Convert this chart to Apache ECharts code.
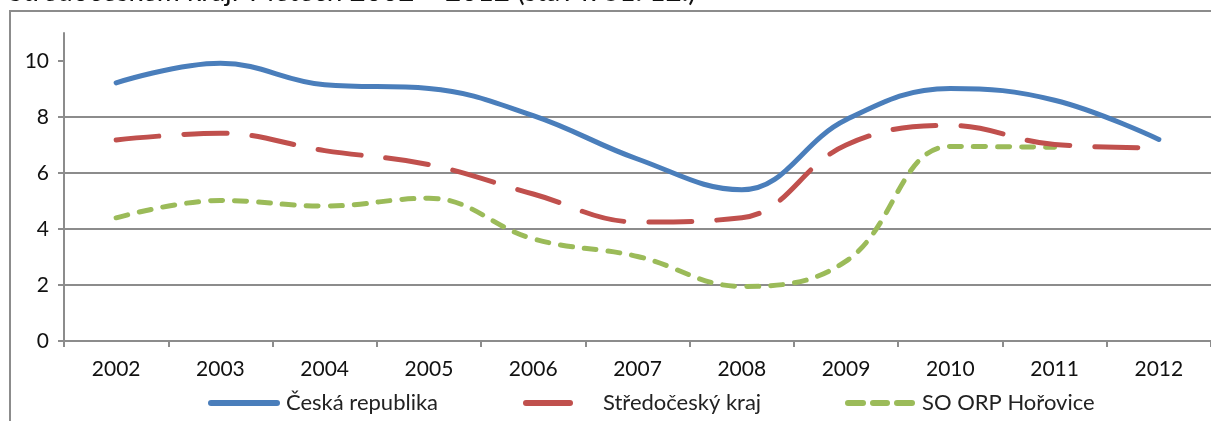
<!DOCTYPE html>
<html><head><meta charset="utf-8">
<script src="https://cdn.jsdelivr.net/npm/echarts@6/dist/echarts.min.js"></script>
<style>html,body{margin:0;padding:0;background:#fff}#c{width:1211px;height:421px}</style>
</head><body><div id="c"></div>
<script>
var years = ['2002','2003','2004','2005','2006','2007','2008','2009','2010','2011','2012'];
var ceskaRepublika = [9.22, 9.92, 9.15, 9.02, 8.05, 6.5, 5.4, 7.9, 9.02, 8.6, 7.2];
var stredoceskyKraj = [7.18, 7.42, 6.8, 6.3, 5.25, 4.25, 4.4, 7.0, 7.7, 7.02, 6.9];
var soOrpHorovice = [4.4, 5.02, 4.82, 5.1, 3.65, 3.02, 1.95, 2.85, 6.95, 6.92, null];
var seriesNames = ['Česká republika', 'Středočeský kraj', 'SO ORP Hořovice'];
var yTicks = [0, 2, 4, 6, 8, 10];
var titleText = 'Středočeském kraji v letech 2002 – 2012 (stav k 31. 12.)';

var FONT = 'Lato';
var GRID = '#8c8c8c';
var COLORS = ['#4a7ebb', '#c0504d', '#9bbb59'];
var chart = echarts.init(document.getElementById('c'));

function bar(x, w, color) {
  return {type: 'rect', shape: {x: x, y: 400, width: w, height: 6, r: 3}, style: {fill: color}};
}
function label(x, text) {
  return {type: 'text', x: x, y: 403, style: {text: text, fontFamily: FONT, fontSize: 22, fill: '#222', verticalAlign: 'middle'}};
}
chart.setOption({
  animation: false,
  graphic: [
    {type: 'rect', shape: {x: 10, y: 11, width: 1400, height: 600}, style: {fill: 'none', stroke: GRID, lineWidth: 2}, z: -1},
    {type: 'text', left: 8, top: -22, style: {text: titleText, fontFamily: FONT, fontSize: 28, fill: '#111'}},
    bar(208, 72, COLORS[0]), label(286, seriesNames[0]),
    bar(523, 50, COLORS[1]), label(603, seriesNames[1]),
    bar(845, 21, COLORS[2]), bar(870, 20, COLORS[2]), bar(894, 21, COLORS[2]), label(922, seriesNames[2])
  ],
  grid: {left: 64, top: 33, right: -4, bottom: 80},
  xAxis: {
    type: 'category', data: years, boundaryGap: true,
    axisLine: {lineStyle: {color: GRID, width: 2}},
    axisTick: {show: true, length: 6, lineStyle: {color: GRID, width: 2}},
    axisLabel: {fontFamily: FONT, fontSize: 21, color: '#111', margin: 18}
  },
  yAxis: {
    type: 'value', min: 0, max: 11, interval: 1,
    axisLine: {show: true, lineStyle: {color: GRID, width: 2}},
    axisTick: {show: true, length: 6, customValues: yTicks, lineStyle: {color: GRID, width: 2}},
    axisLabel: {fontFamily: FONT, fontSize: 21, color: '#111', margin: 15, customValues: yTicks},
    splitLine: {show: true, showMaxLine: false, lineStyle: {color: GRID, width: 2},
      interval: function (i, v) { return v % 2 === 0 && v > 0; }}
  },
  series: [
    {name: seriesNames[0], type: 'line', data: ceskaRepublika, smooth: 0.4, symbol: 'none',
      itemStyle: {color: COLORS[0]},
      lineStyle: {color: COLORS[0], width: 5, cap: 'round', join: 'round'}, z: 3},
    {name: seriesNames[1], type: 'line', data: stredoceskyKraj, smooth: 0.4, symbol: 'none',
      itemStyle: {color: COLORS[1]},
      lineStyle: {color: COLORS[1], width: 5, type: [43, 25], cap: 'round'}, z: 2},
    {name: seriesNames[2], type: 'line', data: soOrpHorovice, smooth: 0.4, symbol: 'none',
      itemStyle: {color: COLORS[2]},
      lineStyle: {color: COLORS[2], width: 5, type: [12, 12], cap: 'round'}, z: 1}
  ]
});
</script></body></html>
